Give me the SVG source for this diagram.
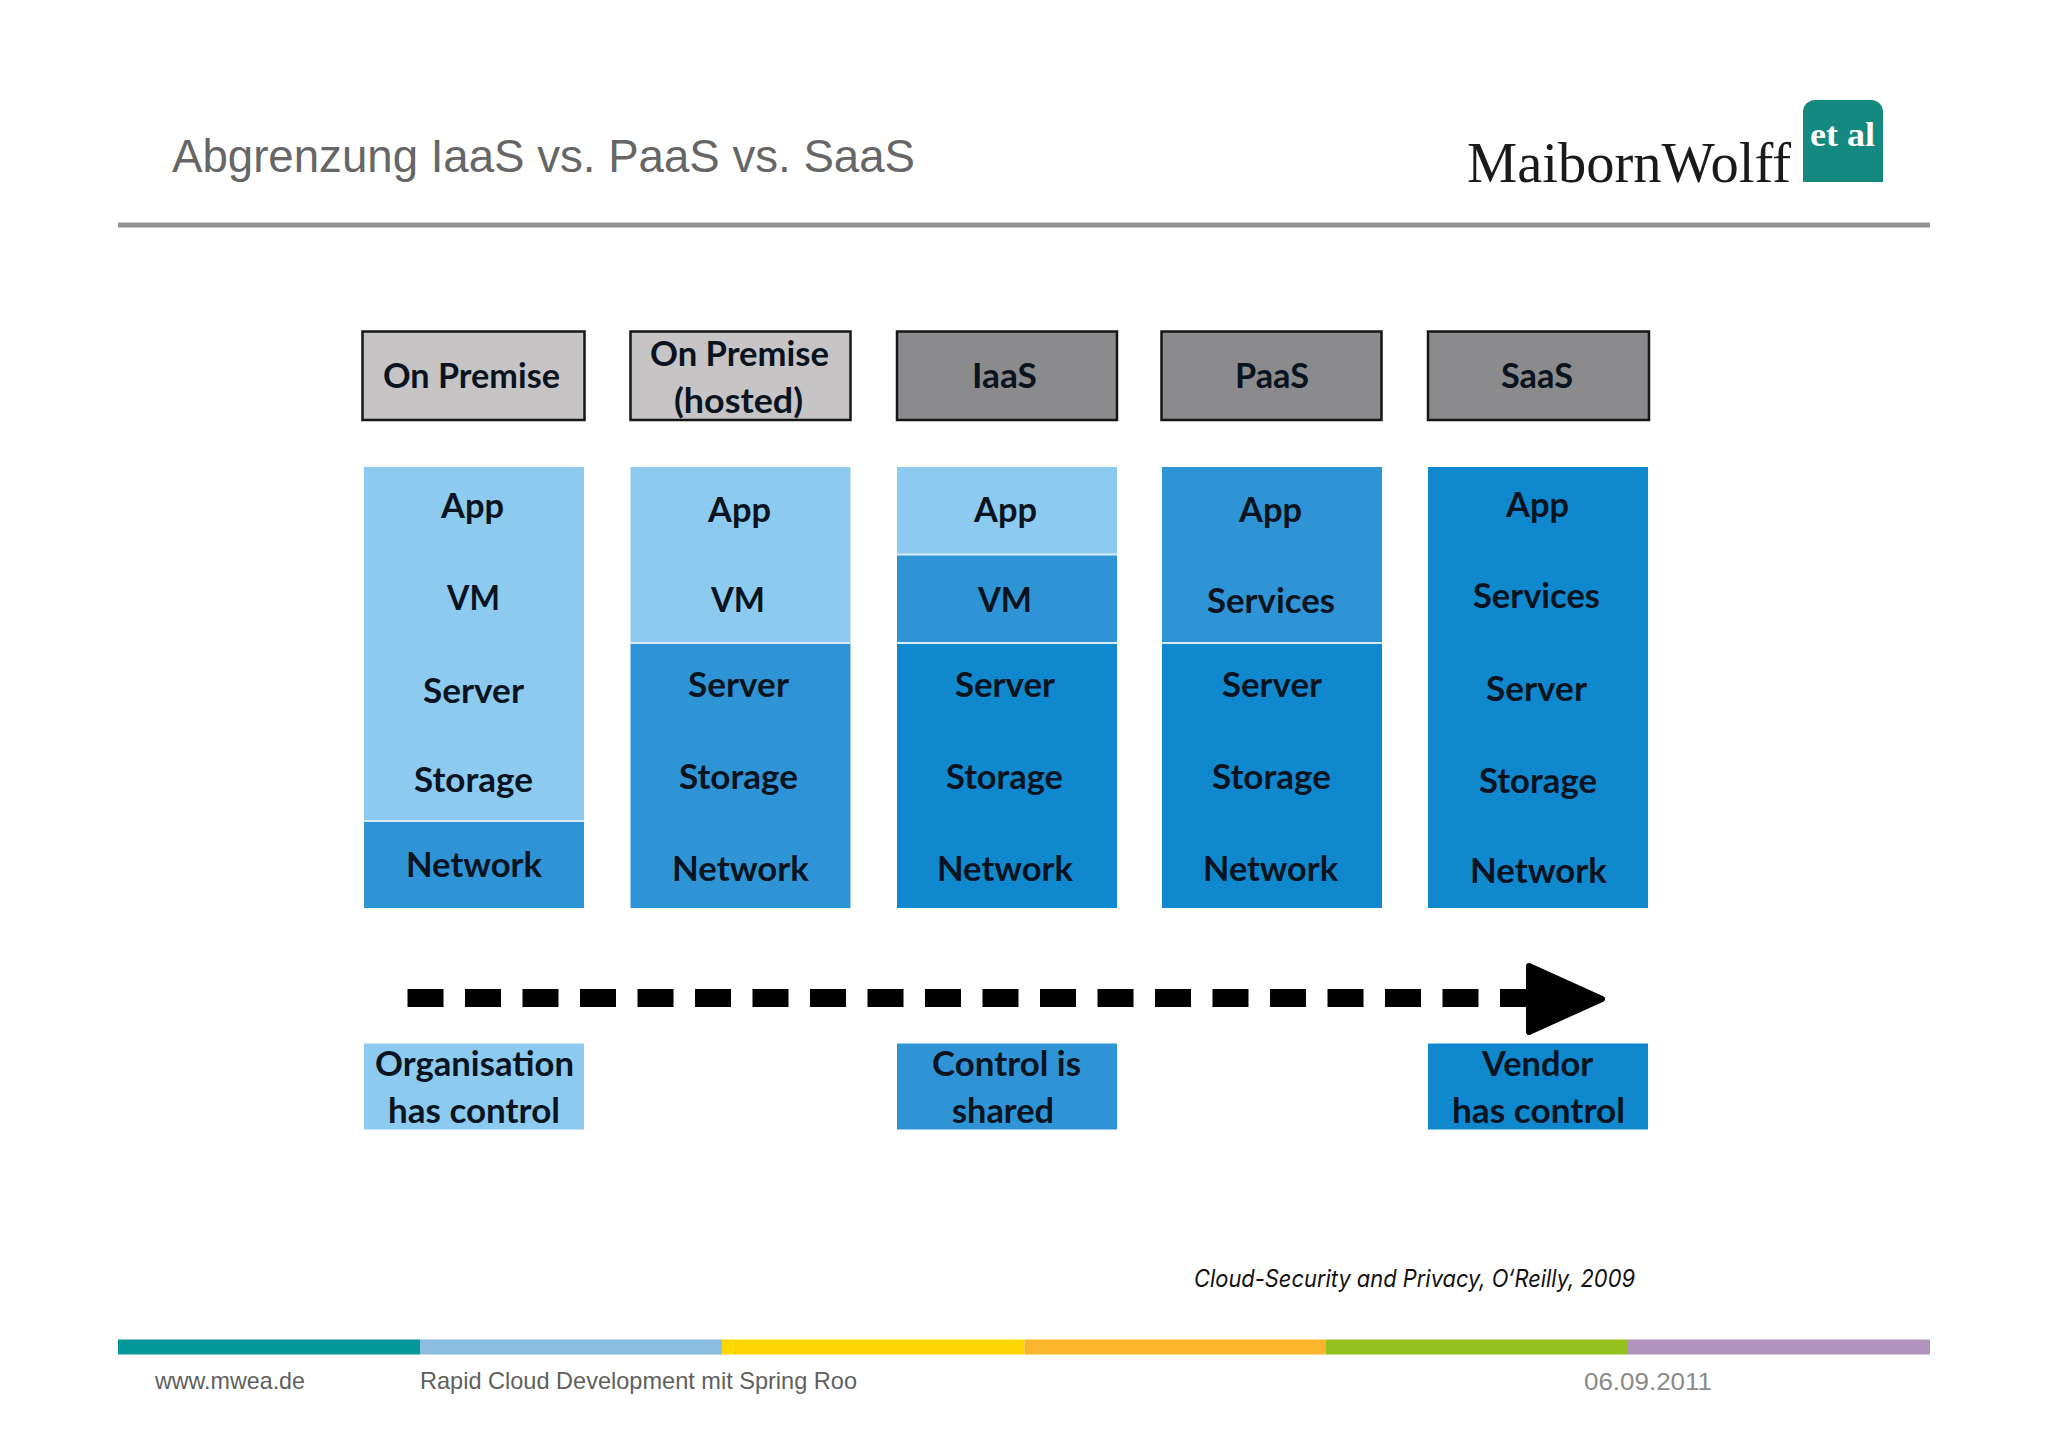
<svg xmlns="http://www.w3.org/2000/svg" width="2048" height="1447" viewBox="0 0 2048 1447">
<style>
text{font-family:"Lato","Noto Sans",sans-serif}
.l{font-weight:700;font-size:34px;fill:#0a1420}
.hb{stroke:#161616;stroke-width:2.500}
.g1{fill:#c6c4c5}.g2{fill:#8b8a8c}
.light{fill:#8ccbef}.mid{fill:#2f94d6}.dark{fill:#1088ce}
.sep{stroke:#d8ecf8;stroke-width:2}
.foot{font-family:"Liberation Sans",Arial,sans-serif;font-size:24px;fill:#5f5f5f}
</style>
<rect width="2048" height="1447" fill="#fff"/>
<g id="header">
<text x="172" y="172" font-size="46" fill="#666" textLength="743" lengthAdjust="spacingAndGlyphs" style="font-family:'Liberation Sans',sans-serif">Abgrenzung IaaS vs. PaaS vs. SaaS</text>
<text x="1467" y="182" font-size="56" fill="#1a1a1a" textLength="324" lengthAdjust="spacingAndGlyphs" style="font-family:'Liberation Serif',serif">MaibornWolff</text>
<path d="M1803 182V112a12 12 0 0 1 12-12h56a12 12 0 0 1 12 12v70z" fill="#14897f"/>
<text x="1810" y="146" font-size="34" font-weight="700" fill="#fff" textLength="65" lengthAdjust="spacingAndGlyphs" style="font-family:'Liberation Serif',serif">et al</text>
<rect x="118" y="222.500" width="1812" height="5" fill="#939393"/>
</g>
<g id="head-onpremise"><rect class="hb g1" x="362.500" y="331.500" width="222" height="88.500"/><text class="l" x="383" y="388" textLength="177" lengthAdjust="spacingAndGlyphs">On Premise</text></g>
<g id="head-hosted"><rect class="hb g1" x="630.500" y="331.500" width="220" height="88.500"/><text class="l" x="650" y="366" textLength="179" lengthAdjust="spacingAndGlyphs">On Premise</text><text class="l" x="674" y="413" textLength="129" lengthAdjust="spacingAndGlyphs">(hosted)</text></g>
<g id="head-iaas"><rect class="hb g2" x="897" y="331.500" width="220" height="88.500"/><text class="l" x="972" y="388" textLength="65" lengthAdjust="spacingAndGlyphs">IaaS</text></g>
<g id="head-paas"><rect class="hb g2" x="1161.500" y="331.500" width="220" height="88.500"/><text class="l" x="1235" y="388" textLength="74" lengthAdjust="spacingAndGlyphs">PaaS</text></g>
<g id="head-saas"><rect class="hb g2" x="1428" y="331.500" width="221" height="88.500"/><text class="l" x="1501" y="388" textLength="72" lengthAdjust="spacingAndGlyphs">SaaS</text></g>
<g id="col-onpremise">
<rect class="light" x="364" y="467" width="220" height="354"/><rect class="mid" x="364" y="821" width="220" height="87"/><line class="sep" x1="364" y1="821" x2="584" y2="821"/>
<text class="l" x="441" y="518" textLength="63" lengthAdjust="spacingAndGlyphs">App</text><text class="l" x="447" y="610" textLength="53" lengthAdjust="spacingAndGlyphs">VM</text><text class="l" x="423" y="703" textLength="101" lengthAdjust="spacingAndGlyphs">Server</text><text class="l" x="414" y="792" textLength="119" lengthAdjust="spacingAndGlyphs">Storage</text><text class="l" x="406" y="877" textLength="136" lengthAdjust="spacingAndGlyphs">Network</text>
</g>
<g id="col-hosted">
<rect class="light" x="630.500" y="467" width="220" height="176"/><rect class="mid" x="630.500" y="643" width="220" height="265"/><line class="sep" x1="630.500" y1="643" x2="850.500" y2="643"/>
<text class="l" x="708" y="522" textLength="63" lengthAdjust="spacingAndGlyphs">App</text><text class="l" x="711" y="612" textLength="54" lengthAdjust="spacingAndGlyphs">VM</text><text class="l" x="688" y="697" textLength="101" lengthAdjust="spacingAndGlyphs">Server</text><text class="l" x="679" y="789" textLength="119" lengthAdjust="spacingAndGlyphs">Storage</text><text class="l" x="672" y="881" textLength="137" lengthAdjust="spacingAndGlyphs">Network</text>
</g>
<g id="col-iaas">
<rect class="light" x="897" y="467" width="220" height="87.500"/><rect class="mid" x="897" y="554.500" width="220" height="88.500"/><rect class="dark" x="897" y="643" width="220" height="265"/><line class="sep" x1="897" y1="554.500" x2="1117" y2="554.500"/><line class="sep" x1="897" y1="643" x2="1117" y2="643"/>
<text class="l" x="974" y="522" textLength="63" lengthAdjust="spacingAndGlyphs">App</text><text class="l" x="978" y="612" textLength="54" lengthAdjust="spacingAndGlyphs">VM</text><text class="l" x="955" y="697" textLength="100" lengthAdjust="spacingAndGlyphs">Server</text><text class="l" x="946" y="789" textLength="117" lengthAdjust="spacingAndGlyphs">Storage</text><text class="l" x="937" y="881" textLength="136" lengthAdjust="spacingAndGlyphs">Network</text>
</g>
<g id="col-paas">
<rect class="mid" x="1162" y="467" width="220" height="176"/><rect class="dark" x="1162" y="643" width="220" height="265"/><line class="sep" x1="1162" y1="643" x2="1382" y2="643"/>
<text class="l" x="1239" y="522" textLength="63" lengthAdjust="spacingAndGlyphs">App</text><text class="l" x="1207" y="613" textLength="128" lengthAdjust="spacingAndGlyphs">Services</text><text class="l" x="1222" y="697" textLength="100" lengthAdjust="spacingAndGlyphs">Server</text><text class="l" x="1212" y="789" textLength="119" lengthAdjust="spacingAndGlyphs">Storage</text><text class="l" x="1203" y="881" textLength="135" lengthAdjust="spacingAndGlyphs">Network</text>
</g>
<g id="col-saas">
<rect class="dark" x="1428" y="467" width="220" height="441"/>
<text class="l" x="1506" y="517" textLength="63" lengthAdjust="spacingAndGlyphs">App</text><text class="l" x="1473" y="608" textLength="127" lengthAdjust="spacingAndGlyphs">Services</text><text class="l" x="1486" y="701" textLength="101" lengthAdjust="spacingAndGlyphs">Server</text><text class="l" x="1479" y="793" textLength="118" lengthAdjust="spacingAndGlyphs">Storage</text><text class="l" x="1470" y="883" textLength="137" lengthAdjust="spacingAndGlyphs">Network</text>
</g>
<g id="connectors">
<line x1="407.500" y1="998" x2="1535" y2="998" stroke="#000" stroke-width="18" stroke-dasharray="36 21.500"/>
<path d="M1529 966 L1602 999 L1529 1032 Z" fill="#000" stroke="#000" stroke-width="6" stroke-linejoin="round"/>
</g>
<g id="legend-org"><rect class="light" x="364" y="1043.500" width="220" height="86"/><text class="l" x="375" y="1076" textLength="199" lengthAdjust="spacingAndGlyphs">Organisation</text><text class="l" x="388" y="1123" textLength="172" lengthAdjust="spacingAndGlyphs">has control</text></g>
<g id="legend-shared"><rect class="mid" x="897" y="1043.500" width="220" height="86"/><text class="l" x="932" y="1076" textLength="149" lengthAdjust="spacingAndGlyphs">Control is</text><text class="l" x="952" y="1123" textLength="102" lengthAdjust="spacingAndGlyphs">shared</text></g>
<g id="legend-vendor"><rect class="dark" x="1428" y="1043.500" width="220" height="86"/><text class="l" x="1482" y="1076" textLength="111" lengthAdjust="spacingAndGlyphs">Vendor</text><text class="l" x="1452" y="1123" textLength="173" lengthAdjust="spacingAndGlyphs">has control</text></g>
<text x="1194" y="1287" font-size="24" font-style="italic" fill="#111" textLength="441" lengthAdjust="spacingAndGlyphs" style="font-family:Inter,'Liberation Sans',sans-serif">Cloud-Security and Privacy, O‘Reilly, 2009</text>
<g id="footer">
<rect x="118" y="1339.500" width="302" height="15" fill="#02979b"/>
<rect x="420" y="1339.500" width="302" height="15" fill="#8bbce2"/>
<rect x="722" y="1339.500" width="302.500" height="15" fill="#ffd600"/>
<rect x="1024.500" y="1339.500" width="301.500" height="15" fill="#fbb52c"/>
<rect x="1326" y="1339.500" width="302" height="15" fill="#95c11f"/>
<rect x="1628" y="1339.500" width="302" height="15" fill="#b293bd"/>
<text class="foot" x="155" y="1389" textLength="150" lengthAdjust="spacingAndGlyphs">www.mwea.de</text>
<text class="foot" x="420" y="1389" textLength="437" lengthAdjust="spacingAndGlyphs">Rapid Cloud Development mit Spring Roo</text>
<text class="foot" x="1584" y="1390" textLength="128" lengthAdjust="spacingAndGlyphs" style="fill:#8a8a8a">06.09.2011</text>
</g>
</svg>
